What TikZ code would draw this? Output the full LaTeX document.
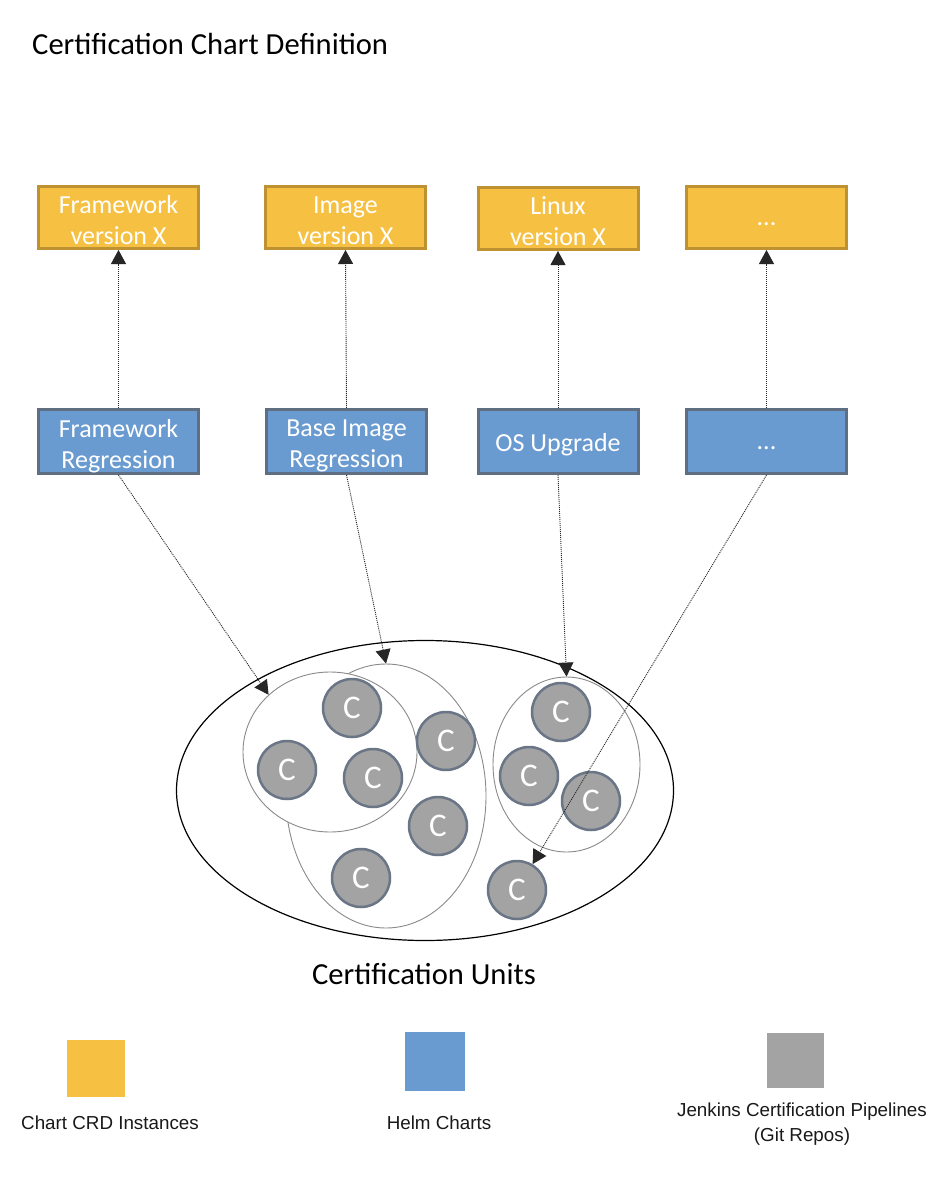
\documentclass[tikz,border=0pt]{standalone}
\usepackage{fontspec}
\setmainfont{Carlito}
\newfontfamily\legendfont{Liberation Sans}
\usetikzlibrary{arrows.meta,shapes.geometric}
\definecolor{yfill}{HTML}{F6C143}
\definecolor{yline}{HTML}{BE9132}
\definecolor{bfill}{HTML}{6A9BD0}
\definecolor{bline}{HTML}{5F6E80}
\definecolor{cfill}{HTML}{A3A3A3}
\definecolor{cline}{HTML}{6A7586}
\definecolor{gline}{HTML}{8A8A8A}
\tikzset{
  ybox/.style={rectangle, fill=yfill, draw=yline, line width=3pt, minimum width=160pt, minimum height=62pt, inner sep=0pt},
  bbox/.style={rectangle, fill=bfill, draw=bline, line width=3pt, minimum width=160pt, minimum height=64pt, inner sep=0pt},
  boxtext/.style={inner sep=0pt, align=center, text=white, font=\fontsize{26}{31}\selectfont},
  cunit/.style={circle, fill=cfill, draw=cline, line width=2.5pt, minimum size=58pt, inner sep=0pt, text=white, font=\fontsize{33}{33}\selectfont},
  group/.style={ellipse, fill=white, draw=gline, line width=0.9pt, inner sep=0pt},
  conn/.style={draw=black!85, line width=0.9pt, dash pattern=on 1pt off 1pt, -{Triangle[length=14pt,width=15pt]}},
  legendtext/.style={font=\legendfont\fontsize{18.8}{25}\selectfont, text=black!90, align=center, inner sep=0pt},
}
\begin{document}
\begin{tikzpicture}[x=1pt,y=-1pt]
\useasboundingbox (0,0) rectangle (936,1190);
\fill[white] (0,0) rectangle (936,1190);

\node[anchor=base west, inner sep=0pt, font=\fontsize{30.6}{36}\selectfont] (title) at (32,55) {Certification Chart Definition};

% top row
\node[ybox] (y1) at (118.5,217.5) {};
\node[ybox] (y2) at (345.5,217.5) {};
\node[ybox] (y3) at (558,218.5) {};
\node[ybox] (y4) at (766.5,217.5) {};
\node[boxtext] (y1t) at ([yshift=-3pt]y1.center) {Framework\\version X};
\node[boxtext] (y2t) at ([yshift=-3pt]y2.center) {Image\\version X};
\node[boxtext] (y3t) at ([yshift=-3pt]y3.center) {Linux\\version X};
\node[boxtext] (y4t) at ([yshift=-7pt]y4.center) {...};

% second row
\node[bbox] (b1) at (118.5,441.5) {};
\node[bbox] (b2) at (346.5,441.5) {};
\node[bbox] (b3) at (558,441.5) {};
\node[bbox] (b4) at (766.5,441.5) {};
\node[boxtext] (b1t) at ([yshift=-4.5pt]b1.center) {Framework\\Regression};
\node[boxtext] (b2t) at ([yshift=-4.5pt]b2.center) {Base Image\\Regression};
\node[boxtext] (b3t) at ([yshift=-3pt]b3.center) {OS Upgrade};
\node[boxtext] (b4t) at ([yshift=-7pt]b4.center) {...};

% certification units
\node[ellipse, draw=black, line width=1.2pt, minimum width=497pt, minimum height=300pt, inner sep=0pt] (E) at (425,790.5) {};
\node[group, minimum width=200pt, minimum height=264pt] (B) at (386,796) {};
\node[group, minimum width=174pt, minimum height=160pt] (A) at (330,752) {};
\node[group, minimum width=147pt, minimum height=175pt] (D) at (566.5,764.5) {};

\node[cunit] (c1) at (352,708) {C};
\node[cunit] (c2) at (287,770) {C};
\node[cunit] (c3) at (373,778) {C};
\node[cunit] (c4) at (446,741) {C};
\node[cunit] (c5) at (438,826) {C};
\node[cunit] (c6) at (361,878) {C};
\node[cunit] (c7) at (561,712) {C};
\node[cunit] (c8) at (529,776) {C};
\node[cunit] (c9) at (591,801) {C};
\node[cunit] (c10) at (517,890) {C};

\node[anchor=base, inner sep=0pt, font=\fontsize{30.6}{36}\selectfont] (units) at (424,984) {Certification Units};

% connectors
\draw[conn] (b1.north) -- (y1.south);
\draw[conn] (b2.north) -- (y2.south);
\draw[conn] (b3.north) -- (y3.south);
\draw[conn] (b4.north) -- (y4.south);
\draw[conn] (b1.south) -- (A.137);
\draw[conn] (b2.south) -- (B.north);
\draw[conn] (b3.south) -- (D.north);
\draw[conn] (b4.south) -- (c10);

% legend
\node[fill=yfill, minimum width=58pt, minimum height=57pt, inner sep=0pt] (ly) at (96,1068) {};
\node[fill=bfill, minimum width=60pt, minimum height=59pt, inner sep=0pt] (lb) at (435,1061.5) {};
\node[fill=cfill, minimum width=57pt, minimum height=55pt, inner sep=0pt] (lg) at (795.5,1060.5) {};
\node[legendtext] (lyt) at (110,1123) {Chart CRD Instances};
\node[legendtext] (lbt) at (439,1123) {Helm Charts};
\node[legendtext] (lgt) at (802,1124) {Jenkins Certification Pipelines\\(Git Repos)};
\end{tikzpicture}
\end{document}
